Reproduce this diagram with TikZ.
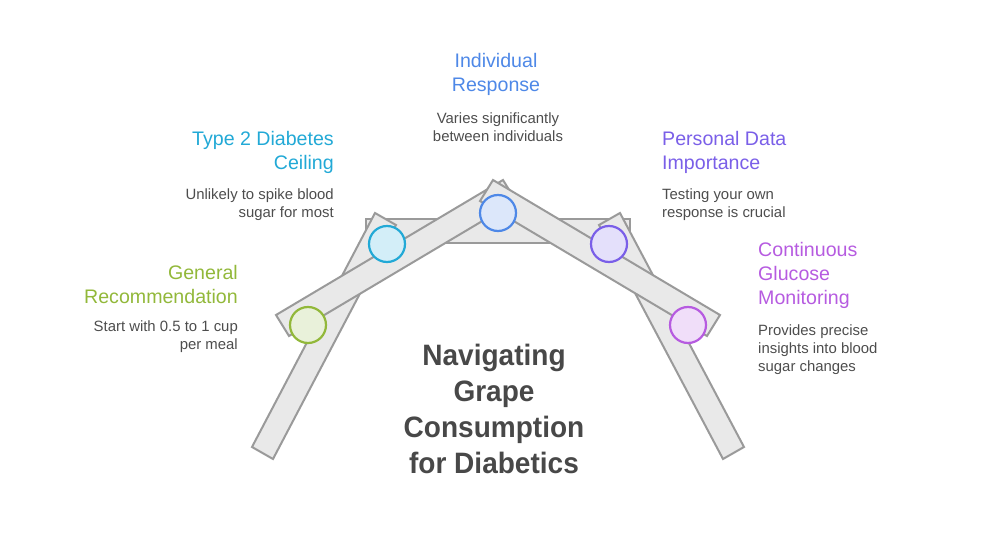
\documentclass[tikz,border=0pt]{standalone}
\usepackage{fontspec}
\setmainfont{Liberation Sans}
\newfontfamily\titlefont[FakeStretch=0.95]{Liberation Sans}
\definecolor{bargray}{HTML}{E9E9E9}
\definecolor{barline}{HTML}{9A9A9A}
\definecolor{txtbody}{HTML}{4D4D4D}
\definecolor{txttitle}{HTML}{484848}
\definecolor{cgreen}{HTML}{92B83A}
\definecolor{fgreen}{HTML}{E9F1DA}
\definecolor{ccyan}{HTML}{22A9D6}
\definecolor{fcyan}{HTML}{D3EEF8}
\definecolor{cblue}{HTML}{4E88E7}
\definecolor{fblue}{HTML}{DCE7FA}
\definecolor{cviolet}{HTML}{7A5FE8}
\definecolor{fviolet}{HTML}{E4E0FB}
\definecolor{cmag}{HTML}{B65BE0}
\definecolor{fmag}{HTML}{F0DEF9}
\tikzset{
  bar/.style={fill=bargray,draw=barline,line width=2pt,line join=miter},
  dot/.style={circle,draw=#1,line width=2.2pt,minimum size=36pt,inner sep=0pt},
  head/.style={font=\fontsize{19.6}{24}\selectfont,inner sep=0pt},
  body/.style={font=\fontsize{14.9}{18}\selectfont,text=txtbody,inner sep=0pt},
  maintitle/.style={font=\fontsize{29.5}{36}\titlefont\bfseries,text=txttitle,align=center,inner sep=0pt}
}
\begin{document}
\begin{tikzpicture}[x=1pt,y=-1pt]
\useasboundingbox (0,0) rectangle (996,540);
\draw[bar] (366,219) rectangle (630,243);
\draw[bar] (252,447) -- (273,459) -- (396,225) -- (375,213) -- cycle;
\draw[bar] (744,447) -- (723,459) -- (599,225) -- (620,213) -- cycle;
\draw[bar] (503,180) -- (276,315) -- (289,336) -- (516,201) -- cycle;
\draw[bar] (493,180) -- (720,315) -- (707,336) -- (480,201) -- cycle;
\node[dot=cgreen,fill=fgreen] (d1) at (308,325) {};
\node[dot=ccyan,fill=fcyan] (d2) at (387,244) {};
\node[dot=cblue,fill=fblue] (d3) at (498,213) {};
\node[dot=cviolet,fill=fviolet] (d4) at (609,244) {};
\node[dot=cmag,fill=fmag] (d5) at (688,325) {};
\node[head,text=cgreen,align=right,anchor=east] (h1) at (238,284) {General\\Recommendation};
\node[body,align=right,anchor=east] (b1) at (238,337) {Start with 0.5 to 1 cup\\per meal};
\node[head,text=ccyan,align=right,anchor=east] (h2) at (334,152) {Type 2 Diabetes\\Ceiling};
\node[body,align=right,anchor=east] (b2) at (334,205) {Unlikely to spike blood\\sugar for most};
\node[head,text=cblue,align=center] (h3) at (496,74) {Individual\\Response};
\node[body,align=center] (b3) at (498,127) {Varies significantly\\between individuals};
\node[head,text=cviolet,align=left,anchor=west] (h4) at (662,152) {Personal Data\\Importance};
\node[body,align=left,anchor=west] (b4) at (662,205) {Testing your own\\response is crucial};
\node[head,text=cmag,align=left,anchor=west] (h5) at (758,275) {Continuous\\Glucose\\Monitoring};
\node[body,align=left,anchor=west] (b5) at (758,349.5) {Provides precise\\insights into blood\\sugar changes};
\node[maintitle] (t) at (494,409) {Navigating\\Grape\\Consumption\\for Diabetics};
\end{tikzpicture}
\end{document}
